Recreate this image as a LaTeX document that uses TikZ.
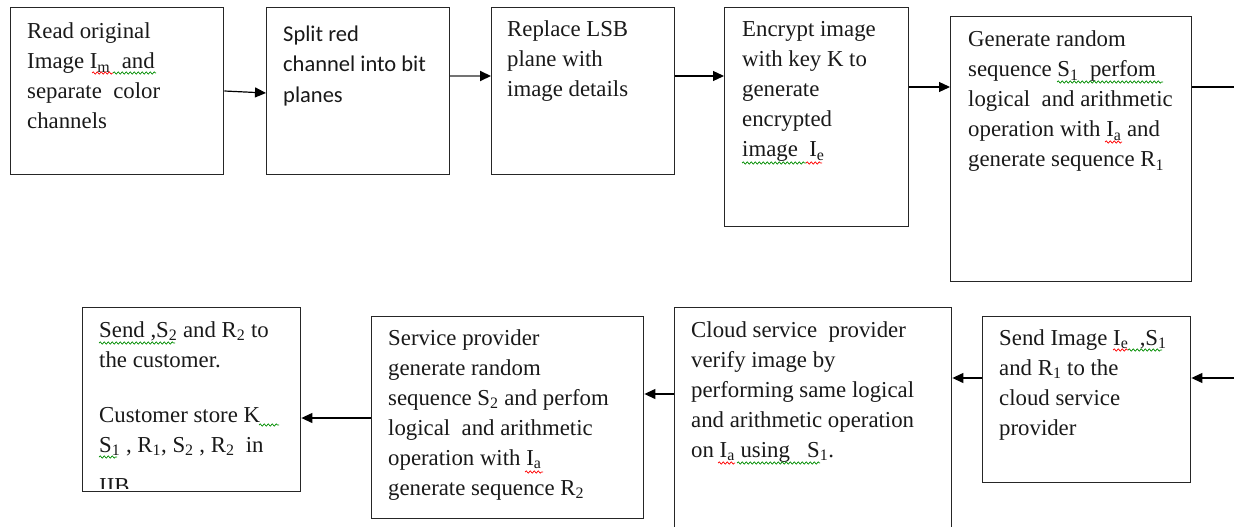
\documentclass[tikz,border=0pt]{standalone}
\usepackage{fontspec}
\setmainfont{Liberation Serif}
\newfontfamily\calib{Carlito}
\usetikzlibrary{arrows.meta,decorations.pathmorphing,calc}
\begin{document}
\begin{tikzpicture}[x=1pt,y=-1pt,
  box/.style={draw=black!85, line width=1.4pt, rectangle, anchor=north west, inner sep=0pt},
  txt/.style={anchor=base west, inner sep=0pt, font=\fontsize{22.8}{30}\selectfont, text=black!90},
  arr/.style={draw=black, line width=1.2pt, -{Triangle[length=11pt,width=10pt,color=black]}},
  wavyr/.style={draw=red, line width=0.7pt, decorate, decoration={snake, amplitude=1.1pt, segment length=4pt}},
  wavyg/.style={draw=green!55!black, line width=0.7pt, decorate, decoration={snake, amplitude=1.1pt, segment length=4pt}}]
\useasboundingbox (0,0) rectangle (1234,527);
% top row
\node[box, minimum width=213pt, minimum height=167pt] (b1) at (10,7) {};
\node[box, minimum width=183pt, minimum height=167pt] (b2) at (266,7) {};
\node[box, minimum width=183pt, minimum height=167pt] (b3) at (491,7) {};
\node[box, minimum width=184pt, minimum height=219pt] (b4) at (724,7) {};
\node[box, minimum width=241pt, minimum height=265pt] (b5) at (950,16) {};
% bottom row
\node[box, minimum width=218pt, minimum height=184pt] (bA) at (82,307) {};
\node[box, minimum width=272pt, minimum height=202pt] (bB) at (371,316) {};
\node[box, minimum width=277pt, minimum height=253pt] (bC) at (674,307) {};
\node[box, minimum width=208pt, minimum height=166pt] (bD) at (982,316) {};
% texts
\node[txt] (t1) at (27,39) {\parbox[t]{300pt}{\raggedright Read original\\ Image I\textsubscript{m}\ \ and\\ separate\ \ color\\ channels}};
\node[txt, font=\calib\fontsize{22.5}{30}\selectfont] (t2) at (283,42) {\parbox[t]{300pt}{\raggedright Split red\\ channel into bit\\ planes}};
\node[txt] (t3) at (507,37) {\parbox[t]{300pt}{\raggedright Replace LSB\\ plane with\\ image details}};
\node[txt] (t4) at (742,37) {\parbox[t]{300pt}{\raggedright Encrypt image\\ with key K to\\ generate\\ encrypted\\ image\ \ I\textsubscript{e}}};
\node[txt] (t5) at (968,47) {\parbox[t]{300pt}{\raggedright Generate random\\ sequence S\textsubscript{1}\ \ perfom\\ logical\ \ and arithmetic\\ operation with I\textsubscript{a} and\\ generate sequence R\textsubscript{1}}};
\node[txt] (tD) at (999,345) {\parbox[t]{300pt}{\raggedright Send Image I\textsubscript{e}\ \ ,S\textsubscript{1}\\ and R\textsubscript{1} to the\\ cloud service\\ provider}};
\node[txt] (tC) at (691,337) {\parbox[t]{300pt}{\raggedright Cloud service\ \ provider\\ verify image by\\ performing same logical\\ and arithmetic operation\\ on I\textsubscript{a} using\ \ \ S\textsubscript{1}.}};
\node[txt] (tB) at (388,345) {\parbox[t]{300pt}{\raggedright Service provider\\ generate random\\ sequence S\textsubscript{2} and perfom\\ logical\ \ and arithmetic\\ operation with I\textsubscript{a}\\ generate sequence R\textsubscript{2}}};
\begin{scope}
\clip (84,309) rectangle (298,488);
\node[txt] (tA) at (99,337) {\parbox[t]{300pt}{\raggedright Send\ ,S\textsubscript{2} and R\textsubscript{2} to\\ the customer.\\[25pt] Customer store K\\ S\textsubscript{1} , R\textsubscript{1}, S\textsubscript{2} , R\textsubscript{2}\ \ in\\[11pt] IIB}};
\end{scope}
% spell-check squiggles
\draw[wavyr] (92,73) -- (113,73); \draw[wavyg] (113,73) -- (156,73);
\draw[wavyg] (742,163) -- (806,163); \draw[wavyr] (806,163) -- (822,163);
\draw[wavyg] (1057,82) -- (1163,82); \draw[wavyr] (1105,142) -- (1122,142);
\draw[wavyg] (99,343) -- (175,343); \draw[wavyg] (259,425) -- (279,425); \draw[wavyg] (99,457) -- (117,457);
\draw[wavyr] (525,472) -- (543,472);
\draw[wavyr] (718,463) -- (735,463); \draw[wavyg] (737,463) -- (820,463);
\draw[wavyr] (1113,350) -- (1128,350); \draw[wavyg] (1128,350) -- (1162,350);
% connectors
\coordinate (eR1) at (1234,87);
\coordinate (eR2) at (1234,378);
\draw[arr] (b1.east |- 0,91) -- (b2.west |- 0,93);
\draw[arr, draw=black!55, line width=2pt] (b2.east |- 0,76) -- (b3.west |- 0,76);
\draw[arr] (b3.east |- 0,76) -- (b4.west |- 0,76);
\draw[arr] (b4.east |- 0,87) -- (b5.west |- 0,87);
\draw[line width=1.2pt] (b5.east |- eR1) -- (eR1);
\draw[arr] (eR2) -- (bD.east |- eR2);
\draw[arr] (bD.west |- 0,378) -- (bC.east |- 0,378);
\draw[arr] (bC.west |- 0,394) -- (bB.east |- 0,394);
\draw[arr] (bB.west |- 0,418) -- (bA.east |- 0,418);
\end{tikzpicture}
\end{document}
